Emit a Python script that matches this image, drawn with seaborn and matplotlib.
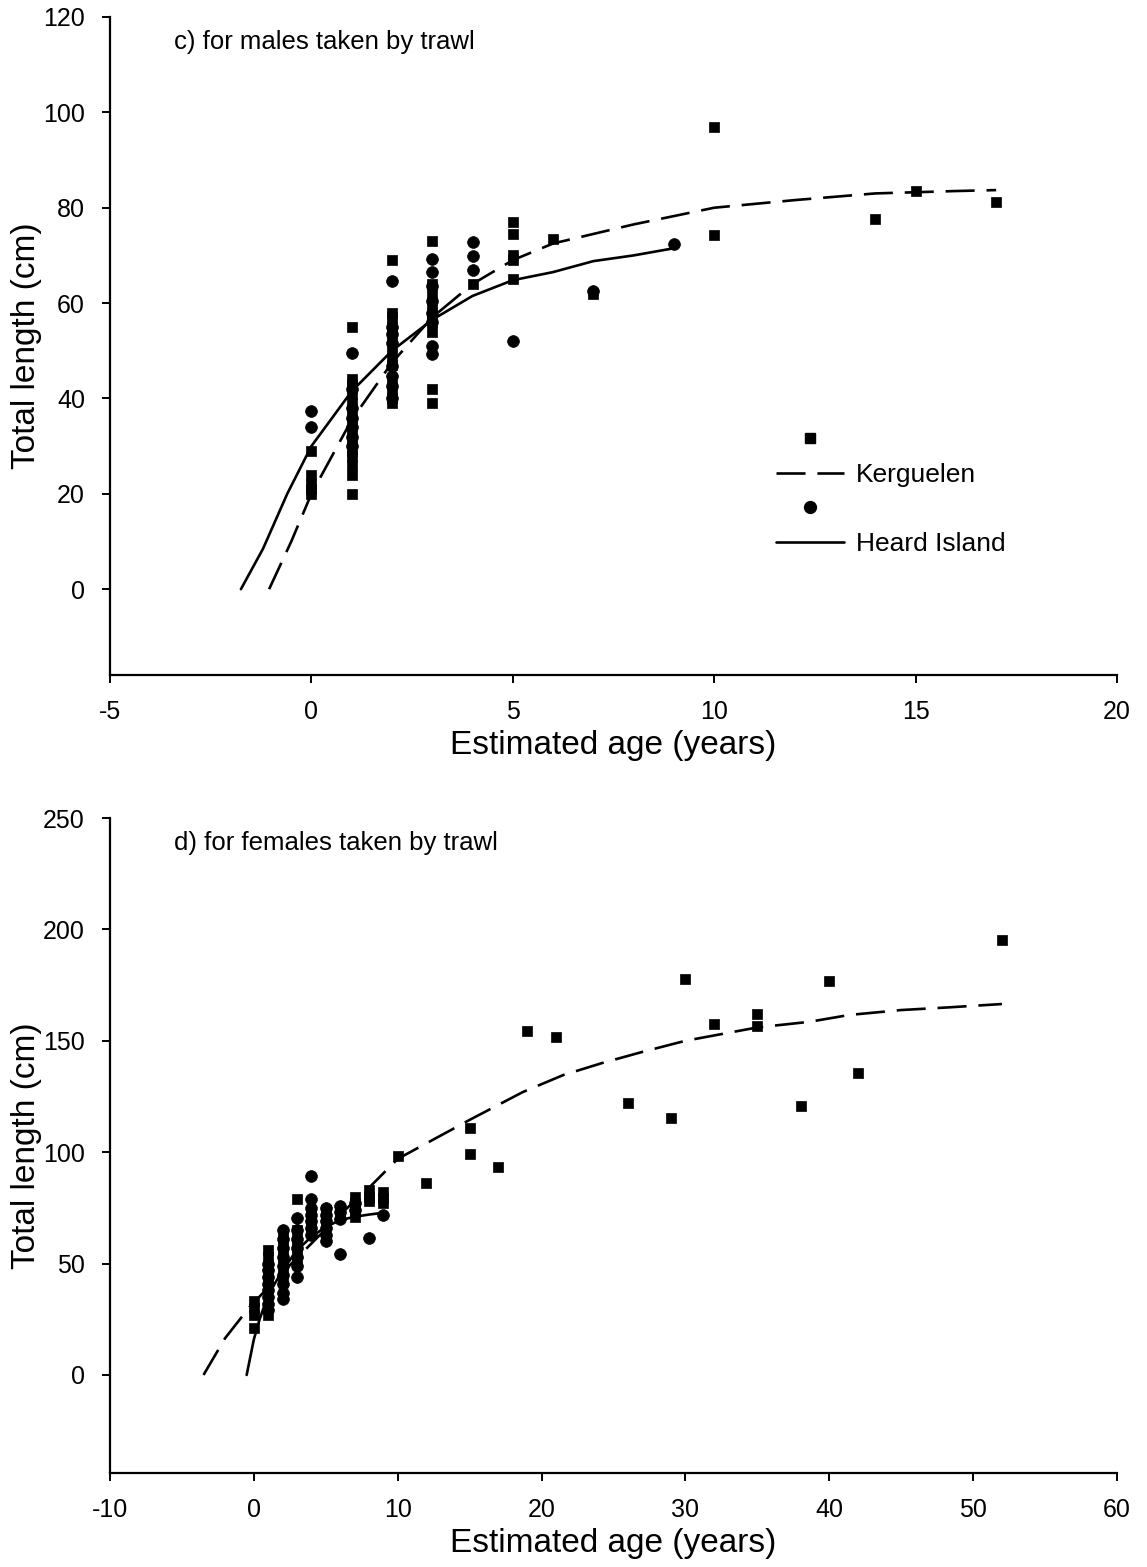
import matplotlib
matplotlib.use("Agg")
import matplotlib.pyplot as plt
import seaborn as sns
from matplotlib.lines import Line2D

# ---- c) males taken by trawl ----
males_kerg_age = [0, 0, 0, 0, 0,
                  1, 1, 1, 1, 1, 1, 1, 1, 1, 1, 1, 1, 1, 1,
                  2, 2, 2, 2, 2, 2, 2, 2, 2, 2, 2, 2,
                  3, 3, 3, 3, 3, 3, 3, 3, 3,
                  4, 5, 5, 5, 5, 5, 6, 7, 10, 10, 14, 15, 17]
males_kerg_len = [29, 24, 22, 21, 20,
                  55, 44, 43, 41, 39, 37, 35, 33, 31, 29, 28, 26, 24, 20,
                  69, 58, 57, 55, 53, 51, 49, 47, 44, 42, 40, 39,
                  73, 64, 62, 60, 58, 56, 54, 42, 39,
                  64, 77, 74.5, 70, 69, 65, 73.5, 62, 97, 74.3, 77.6, 83.5, 81.2]

males_heard_age = [0, 0,
                   1, 1, 1, 1, 1, 1, 1,
                   2, 2, 2, 2, 2, 2, 2, 2,
                   3, 3, 3, 3, 3, 3, 3, 3,
                   4, 4, 4, 5, 7, 9]
males_heard_len = [37.3, 34,
                   49.6, 42, 38, 36, 34, 32, 30,
                   64.6, 55, 53.5, 51.6, 46.8, 44.7, 42.6, 40,
                   69.2, 66.5, 63.6, 60.5, 58, 56, 51, 49.3,
                   72.8, 69.9, 66.9, 52, 62.5, 72.4]

males_kerg_fit_age = [-1.05, -0.5, 0, 1, 2, 3, 4, 5, 6, 8, 10, 12, 14, 16, 17]
males_kerg_fit_len = [0, 10, 20, 35.5, 47.5, 57, 64, 69, 72.5, 76.5, 80, 81.6, 83, 83.5, 83.7]
males_heard_fit_age = [-1.75, -1.2, -0.6, 0, 1, 2, 3, 4, 5, 6, 7, 8, 9]
males_heard_fit_len = [0, 8.5, 20, 30, 41.5, 50, 56.5, 61.5, 64.8, 66.5, 68.8, 70, 71.5]

# ---- d) females taken by trawl ----
fem_kerg_age = [0, 0, 0, 0,
                1, 1, 1, 1, 1,
                2, 2, 2, 2, 2, 2,
                3, 3, 3, 3, 3,
                4, 4, 4, 5, 5, 6,
                7, 7, 7, 7, 8, 8, 8, 9, 9, 9,
                10, 12, 15, 15, 17, 19, 21, 26, 29, 30, 32, 35, 35, 38, 40, 42, 52]
fem_kerg_len = [33, 30, 27, 21,
                56, 53, 44, 30, 27,
                62, 58, 54, 50, 46, 42,
                79, 65, 60, 55, 50,
                73, 70, 67, 74, 70, 73,
                80, 77, 74, 71, 83, 80, 78, 82, 79.5, 77,
                98.3, 86, 111, 99, 93.5, 154.5, 151.5, 122, 115.5, 177.7, 157.5, 162, 156.7, 120.7, 177, 135.5, 195.2]

fem_heard_age = [1, 1, 1, 1, 1, 1, 1, 1,
                 2, 2, 2, 2, 2, 2, 2, 2, 2,
                 3, 3, 3, 3, 3, 3, 3,
                 4, 4, 4, 4, 4, 4, 4,
                 5, 5, 5, 5, 5, 5,
                 6, 6, 6, 6, 7, 7, 8, 9]
fem_heard_len = [50, 47, 44, 41, 38, 35, 32, 29,
                 65, 61, 57, 53, 49, 45, 41, 37, 34,
                 70.5, 65, 61, 57, 53, 49, 44,
                 89.5, 79, 75, 72, 69, 66, 63,
                 75, 72, 69, 66, 63, 60,
                 76, 73, 70, 54.5, 77, 74, 61.5, 72]

fem_kerg_fit_age = [-3.5, -2, -0.3, 2, 4, 6, 8, 10, 15, 18.7, 21.5, 24.2, 27, 30, 35, 38.6, 41.4, 45, 48.3, 52]
fem_kerg_fit_len = [0, 16.5, 30.5, 46, 59, 72, 84, 97, 114.5, 127, 134.6, 140, 145, 150, 156, 158.5, 161.6, 163.8, 165, 166.5]
fem_heard_fit_age = [-0.5, 0, 0.4, 1, 2, 3, 4, 5, 6, 7, 8, 9]
fem_heard_fit_len = [0, 16, 25, 36, 47, 56, 62, 66.5, 69.5, 71, 72, 72.8]

sns.set_style("ticks")
plt.rcParams['font.family'] = ['Liberation Sans', 'DejaVu Sans']
plt.rcParams['axes.unicode_minus'] = False
plt.rcParams['text.color'] = 'black'
plt.rcParams['axes.labelcolor'] = 'black'
plt.rcParams['xtick.color'] = 'black'
plt.rcParams['ytick.color'] = 'black'
plt.rcParams['axes.edgecolor'] = 'black'

fig = plt.figure(figsize=(11.47, 15.67), dpi=100)
ax1 = fig.add_axes([110 / 1147, 1 - 675 / 1567, 1007 / 1147, 658 / 1567])
ax2 = fig.add_axes([110 / 1147, 1 - 1473 / 1567, 1007 / 1147, 655 / 1567])

dash = (0, (11, 4.5))
lw = 1.9


def draw(ax, ka, kl, ha, hl, kfa, kfl, hfa, hfl):
    sns.lineplot(x=kfa, y=kfl, ax=ax, color="black", lw=lw, linestyle=dash)
    sns.lineplot(x=hfa, y=hfl, ax=ax, color="black", lw=lw)
    sns.scatterplot(x=ka, y=kl, ax=ax, marker="s", s=50, color="black", edgecolor="black", linewidth=0.5, zorder=3)
    sns.scatterplot(x=ha, y=hl, ax=ax, marker="o", s=72, color="black", edgecolor="black", linewidth=0.5, zorder=3)


draw(ax1, males_kerg_age, males_kerg_len, males_heard_age, males_heard_len,
     males_kerg_fit_age, males_kerg_fit_len, males_heard_fit_age, males_heard_fit_len)
draw(ax2, fem_kerg_age, fem_kerg_len, fem_heard_age, fem_heard_len,
     fem_kerg_fit_age, fem_kerg_fit_len, fem_heard_fit_age, fem_heard_fit_len)

ax1.set_xlim(-5, 20)
ax1.set_ylim(-18, 120)
ax1.set_xticks([-5, 0, 5, 10, 15, 20])
ax1.set_yticks([0, 20, 40, 60, 80, 100, 120])
ax2.set_xlim(-10, 60)
ax2.set_ylim(-44, 250)
ax2.set_xticks([-10, 0, 10, 20, 30, 40, 50, 60])
ax2.set_yticks([0, 50, 100, 150, 200, 250])

for ax in (ax1, ax2):
    sns.despine(ax=ax)
    ax.spines['left'].set_linewidth(1.6)
    ax.spines['bottom'].set_linewidth(1.6)
    ax.tick_params(direction="out", length=6, width=1.4, labelsize=18, color="black", pad=12)
    ax.set_xlabel("Estimated age (years)", fontsize=24, labelpad=4)
    ax.set_ylabel("Total length (cm)", fontsize=24, labelpad=1)

ax1.text(0.064, 0.962, "c) for males taken by trawl", transform=ax1.transAxes, fontsize=18.5, va="center")
ax2.text(0.064, 0.962, "d) for females taken by trawl", transform=ax2.transAxes, fontsize=18.5, va="center")

handles = [
    Line2D([], [], marker="s", ls="none", color="black", markersize=7),
    Line2D([], [], ls=dash, lw=lw, color="black"),
    Line2D([], [], marker="o", ls="none", color="black", markersize=8.5),
    Line2D([], [], ls="-", lw=lw, color="black"),
]
labels = ["", "Kerguelen", "", "Heard Island"]
ax1.legend(handles, labels, loc="upper left", bbox_to_anchor=(0.648, 0.395), frameon=False,
           fontsize=19, handlelength=2.6, handletextpad=0.45, labelspacing=0.4, borderpad=0, numpoints=1)

fig.savefig("out.png", dpi=100)
